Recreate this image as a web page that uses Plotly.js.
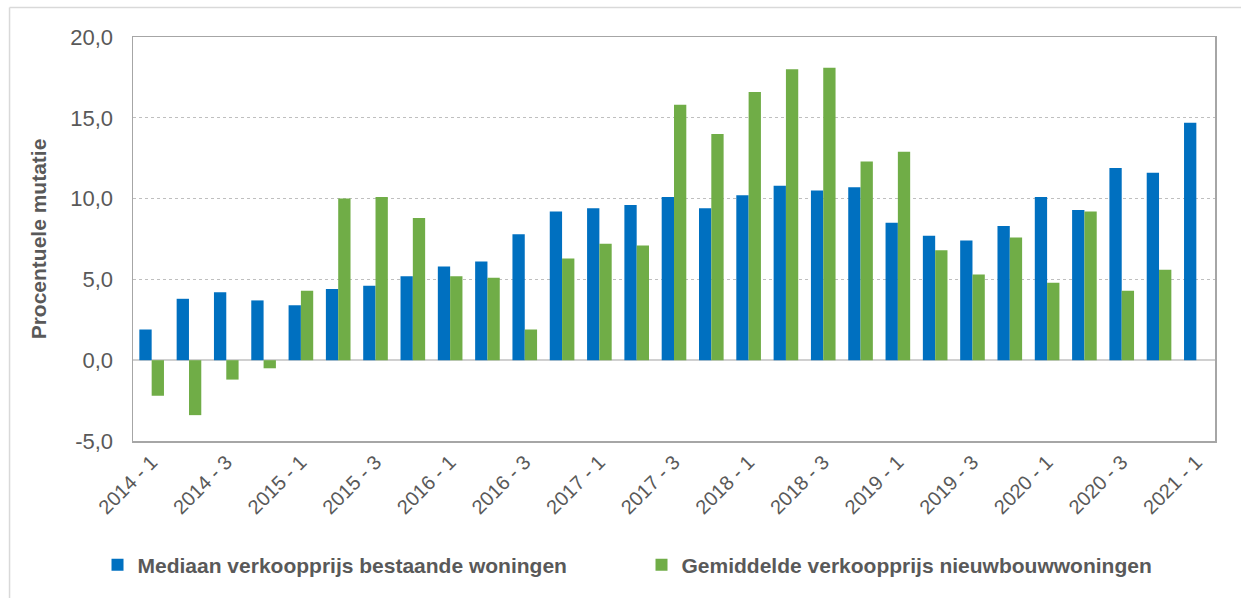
<!DOCTYPE html>
<html>
<head>
<meta charset="utf-8">
<script src="https://cdn.plot.ly/plotly-3.0.1.min.js"></script>
<style>
  html, body { margin: 0; padding: 0; background: #ffffff; }
  #chart { width: 1241px; height: 598px; }
</style>
</head>
<body>
<div id="chart"></div>
<script>
// Kwartalen 2014-1 t/m 2021-1
const quarters = [
  "2014 - 1", "2014 - 2", "2014 - 3", "2014 - 4",
  "2015 - 1", "2015 - 2", "2015 - 3", "2015 - 4",
  "2016 - 1", "2016 - 2", "2016 - 3", "2016 - 4",
  "2017 - 1", "2017 - 2", "2017 - 3", "2017 - 4",
  "2018 - 1", "2018 - 2", "2018 - 3", "2018 - 4",
  "2019 - 1", "2019 - 2", "2019 - 3", "2019 - 4",
  "2020 - 1", "2020 - 2", "2020 - 3", "2020 - 4",
  "2021 - 1"
];

// Procentuele mutatie t.o.v. hetzelfde kwartaal een jaar eerder
const mediaanBestaand = [
  1.9, 3.8, 4.2, 3.7,
  3.4, 4.4, 4.6, 5.2,
  5.8, 6.1, 7.8, 9.2,
  9.4, 9.6, 10.1, 9.4,
  10.2, 10.8, 10.5, 10.7,
  8.5, 7.7, 7.4, 8.3,
  10.1, 9.3, 11.9, 11.6,
  14.7
];

const gemiddeldeNieuwbouw = [
  -2.2, -3.4, -1.2, -0.5,
  4.3, 10.0, 10.1, 8.8,
  5.2, 5.1, 1.9, 6.3,
  7.2, 7.1, 15.8, 14.0,
  16.6, 18.0, 18.1, 12.3,
  12.9, 6.8, 5.3, 7.6,
  4.8, 9.2, 4.3, 5.6,
  null
];

const seriesNames = [
  "Mediaan verkoopprijs bestaande woningen",
  "Gemiddelde verkoopprijs nieuwbouwwoningen"
];

const yTickValues = [-5, 0, 5, 10, 15, 20];
// Nederlandse notatie met komma en gewoon minteken
const yTickText = yTickValues.map(v => v.toFixed(1).replace(".", ","));

const textGrey = "#595959";
const fontFamily = "Arial, 'Liberation Sans', sans-serif";

const traces = [
  {
    type: "bar",
    name: seriesNames[0],
    x: quarters,
    y: mediaanBestaand,
    marker: { color: "#0070C0" },
    hoverinfo: "x+y"
  },
  {
    type: "bar",
    name: seriesNames[1],
    x: quarters,
    y: gemiddeldeNieuwbouw,
    marker: { color: "#70AD47" },
    hoverinfo: "x+y"
  }
];

const layout = {
  width: 1241,
  height: 598,
  margin: { l: 133, r: 26, t: 37, b: 157 },
  paper_bgcolor: "#ffffff",
  plot_bgcolor: "#ffffff",
  barmode: "group",
  bargap: 0.34,
  bargroupgap: 0,
  separators: ",.",
  font: { family: fontFamily, color: textGrey },
  showlegend: true,
  legend: {
    orientation: "h",
    x: -0.0328,
    xanchor: "left",
    y: -0.307,
    yanchor: "middle",
    font: { family: fontFamily, size: 21, color: textGrey, weight: "bold" },
    entrywidth: 499,
    entrywidthmode: "pixels",
    bgcolor: "rgba(0,0,0,0)"
  },
  xaxis: {
    type: "category",
    tickmode: "array",
    tickvals: quarters.filter((q, i) => i % 2 === 0),
    ticktext: quarters.filter((q, i) => i % 2 === 0),
    tickangle: -45,
    tickfont: { family: fontFamily, size: 20, color: textGrey },
    ticks: "",
    showgrid: false,
    showline: true,
    mirror: true,
    linecolor: "#a6a6a6",
    linewidth: 1.5,
    automargin: false
  },
  yaxis: {
    range: [-5, 20],
    tickmode: "array",
    tickvals: yTickValues,
    ticktext: yTickText,
    tickfont: { family: fontFamily, size: 22, color: textGrey },
    ticks: "",
    ticklabelstandoff: 14,
    showgrid: true,
    gridcolor: "#bfbfbf",
    griddash: "dot",
    gridwidth: 1,
    zeroline: true,
    zerolinecolor: "#d0d0d0",
    zerolinewidth: 1.5,
    showline: true,
    mirror: true,
    linecolor: "#a6a6a6",
    linewidth: 1.5,
    automargin: false,
    title: {
      text: "Procentuele mutatie",
      font: { family: fontFamily, size: 21, color: textGrey, weight: "bold" },
      standoff: 18
    }
  },
  shapes: [
    // dunne kaderlijnen links en boven
    { type: "line", xref: "paper", yref: "paper", x0: -0.1141, x1: -0.1141, y0: 1.073, y1: -0.39,
      line: { color: "#d9d9d9", width: 1.5 } },
    { type: "line", xref: "paper", yref: "paper", x0: -0.1141, x1: 1.03, y0: 1.073, y1: 1.073,
      line: { color: "#d9d9d9", width: 1.5 } }
  ]
};

Plotly.newPlot("chart", traces, layout, { displayModeBar: false, staticPlot: true });
</script>
</body>
</html>
